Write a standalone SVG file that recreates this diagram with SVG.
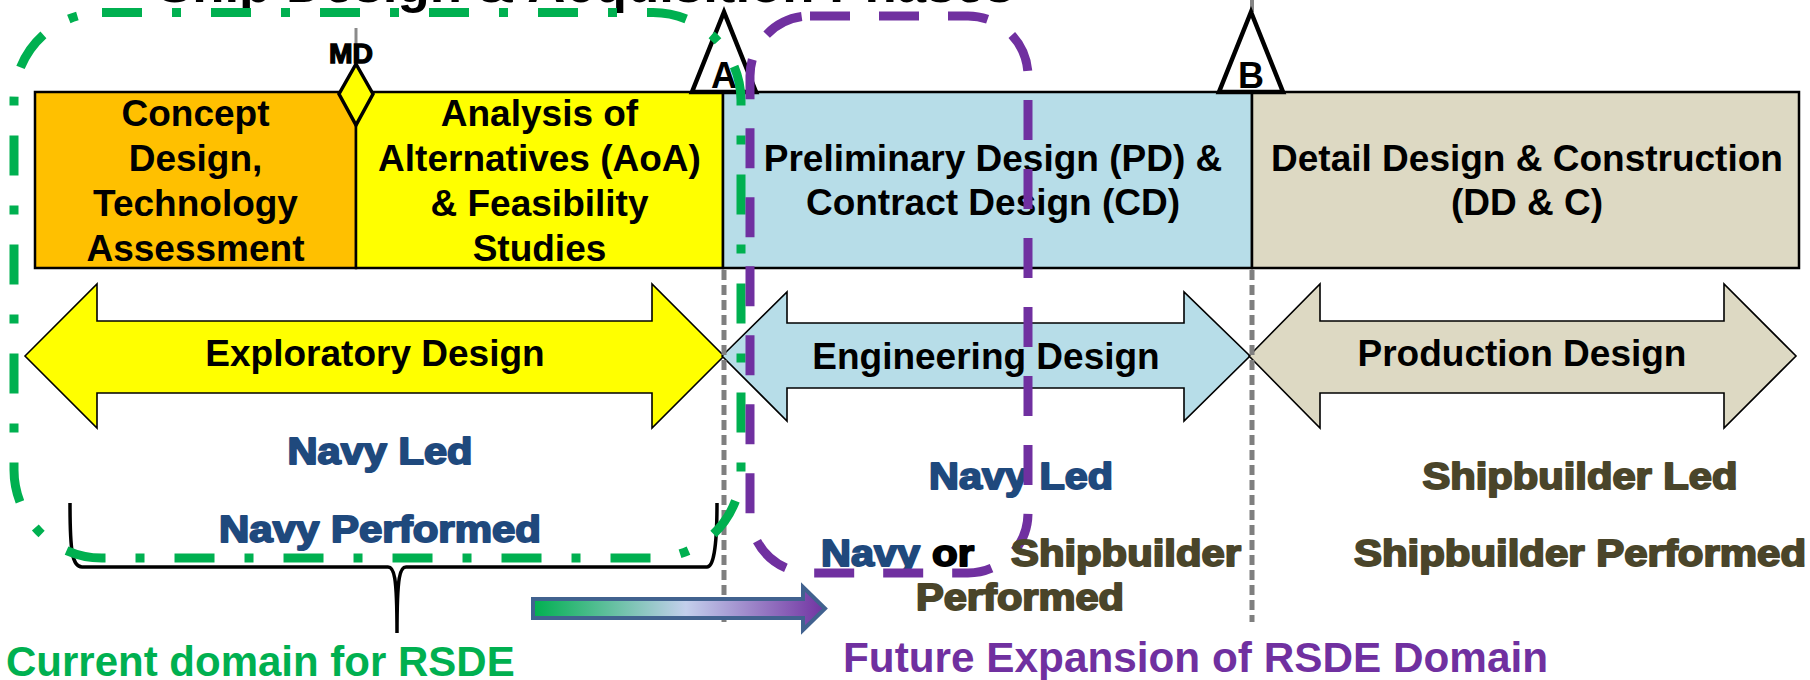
<svg xmlns="http://www.w3.org/2000/svg" width="1810" height="680" viewBox="0 0 1810 680">
<defs>
<style>
.f{font-family:"Liberation Sans",Arial,sans-serif;font-weight:bold}
.box{stroke:#000;stroke-width:2.5}
.bt{font-size:37px;text-anchor:middle;fill:#000}
.arr{stroke:#000;stroke-width:1.6}
.hv{font-size:36px;stroke-width:1.9;stroke-linejoin:round}
.navy{fill:#1F497D;stroke:#1F497D}
.ship{fill:#4A452A;stroke:#4A452A}
.blk{fill:#000;stroke:#000}
.gray{stroke:#7F7F7F;stroke-width:5;stroke-dasharray:10 5;fill:none}
.ms{fill:#fff;stroke:#000;stroke-width:4.5;stroke-linejoin:miter}
</style>
<linearGradient id="grad" gradientUnits="userSpaceOnUse" x1="533" y1="0" x2="827" y2="0">
<stop offset="0" stop-color="#00B050"/>
<stop offset="0.52" stop-color="#C3CFEC"/>
<stop offset="1" stop-color="#7030A0"/>
</linearGradient>
</defs>
<rect width="1810" height="680" fill="#fff"/>

<g id="title"><text class="f" x="157" y="2" font-size="52" textLength="857" lengthAdjust="spacingAndGlyphs" fill="#000">Ship Design &amp; Acquisition Phases</text></g>

<g id="phase-concept">
<rect class="box" x="35" y="92" width="321" height="176" fill="#FFC000"/>
<text class="f bt" x="195.5" y="126">Concept</text>
<text class="f bt" x="195.5" y="171">Design,</text>
<text class="f bt" x="195.5" y="216">Technology</text>
<text class="f bt" x="195.5" y="261">Assessment</text>
</g>
<g id="phase-aoa">
<rect class="box" x="356" y="92" width="367" height="176" fill="#FFFF00"/>
<text class="f bt" x="539.5" y="126">Analysis of</text>
<text class="f bt" x="539.5" y="171">Alternatives (AoA)</text>
<text class="f bt" x="539.5" y="216">&amp; Feasibility</text>
<text class="f bt" x="539.5" y="261">Studies</text>
</g>
<g id="phase-pd-cd">
<rect class="box" x="723" y="92" width="529" height="176" fill="#B7DDE8"/>
<text class="f bt" x="993" y="171">Preliminary Design (PD) &amp;</text>
<text class="f bt" x="993" y="215">Contract Design (CD)</text>
</g>
<g id="phase-dd-c">
<rect class="box" x="1252" y="92" width="547" height="176" fill="#DDD9C3"/>
<text class="f bt" x="1527" y="171">Detail Design &amp; Construction</text>
<text class="f bt" x="1527" y="215">(DD &amp; C)</text>
</g>

<g id="milestone-md">
<line x1="356" y1="28" x2="356" y2="64" stroke="#8a8a8a" stroke-width="3"/>
<text class="f" x="351" y="63" font-size="28" text-anchor="middle" fill="#000" stroke="#000" stroke-width="1.4" textLength="44" lengthAdjust="spacingAndGlyphs">MD</text>
<polygon points="356,64 373,94 356,125 339,94" fill="#FFFF00" stroke="#000" stroke-width="3.5"/>
</g>
<g id="milestone-a">
<polygon class="ms" points="724,12 692,92 756,92"/>
<text class="f" x="724" y="88" font-size="36" text-anchor="middle" fill="#000">A</text>
</g>
<g id="milestone-b">
<line x1="1252" y1="0" x2="1252" y2="12" stroke="#858585" stroke-width="4"/>
<polygon class="ms" points="1251,12 1219,92 1283,92"/>
<text class="f" x="1251" y="88" font-size="36" text-anchor="middle" fill="#000">B</text>
</g>

<g id="arrow-exploratory">
<polygon class="arr" fill="#FFFF00" points="25,356 97,284 97,321 652,321 652,284 724,356 652,428 652,393 97,393 97,428"/>
<text class="f bt" x="375" y="366">Exploratory Design</text>
</g>
<g id="arrow-engineering">
<polygon class="arr" fill="#B7DDE8" points="722,356 787,292 787,323 1184,323 1184,292 1250,356 1184,421 1184,388 787,388 787,421"/>
<text class="f bt" x="986" y="369">Engineering Design</text>
</g>
<g id="arrow-production">
<polygon class="arr" fill="#DDD9C3" points="1249,356 1320,284 1320,321 1724,321 1724,284 1796,356 1724,428 1724,393 1320,393 1320,428"/>
<text class="f bt" x="1522" y="366">Production Design</text>
</g>

<g id="connectors">
<line class="gray" x1="724" y1="270" x2="724" y2="622"/>
<line class="gray" x1="1252" y1="270" x2="1252" y2="622"/>
<path d="M70,503 C70,550 72,567 82,567 L388,567 C394,567 397,575 397,633 C397,575 400,567 406,567 L707,567 C713,567 717,550 717,503" fill="none" stroke="#000" stroke-width="3.5"/>
<path d="M533,599 L803,599 L803,587 L825,608.5 L803,630 L803,618 L533,618 Z" fill="url(#grad)" stroke="#41628F" stroke-width="4" stroke-linejoin="miter"/>
</g>

<g id="roles-exploratory">
<text class="f hv navy" x="380" y="464" text-anchor="middle" textLength="185" lengthAdjust="spacingAndGlyphs">Navy Led</text>
<text class="f hv navy" x="380" y="542" text-anchor="middle" textLength="322" lengthAdjust="spacingAndGlyphs">Navy Performed</text>
</g>
<g id="roles-engineering">
<text class="f hv navy" x="1021" y="489" text-anchor="middle" textLength="184" lengthAdjust="spacingAndGlyphs">Navy Led</text>
<text class="f hv navy" x="821" y="566" textLength="99" lengthAdjust="spacingAndGlyphs">Navy</text>
<text class="f hv blk" x="932" y="566" textLength="42" lengthAdjust="spacingAndGlyphs">or</text>
<text class="f hv ship" x="916" y="610" textLength="208" lengthAdjust="spacingAndGlyphs">Performed</text>
</g>
<g id="roles-production">
<text class="f hv ship" x="1580" y="489" text-anchor="middle" textLength="315" lengthAdjust="spacingAndGlyphs">Shipbuilder Led</text>
<text class="f hv ship" x="1580" y="566" text-anchor="middle" textLength="452" lengthAdjust="spacingAndGlyphs">Shipbuilder Performed</text>
</g>

<g id="current-domain">
<rect x="14" y="12.5" width="727" height="545.5" rx="88" ry="88" fill="none" stroke="#00B050" stroke-width="9" stroke-dasharray="40 30 9 30"/>
<text class="f" x="6" y="676" font-size="42" fill="#00B050">Current domain for RSDE</text>
</g>
<g id="future-domain">
<rect x="750" y="16" width="278" height="557" rx="60" ry="60" fill="none" stroke="#7030A0" stroke-width="9" stroke-dasharray="40 29"/>
<text class="f hv ship" x="1011" y="566" textLength="230" lengthAdjust="spacingAndGlyphs">Shipbuilder</text>
<text class="f" x="843" y="672" font-size="42" fill="#7030A0" textLength="705" lengthAdjust="spacingAndGlyphs">Future Expansion of RSDE Domain</text>
</g>
</svg>
